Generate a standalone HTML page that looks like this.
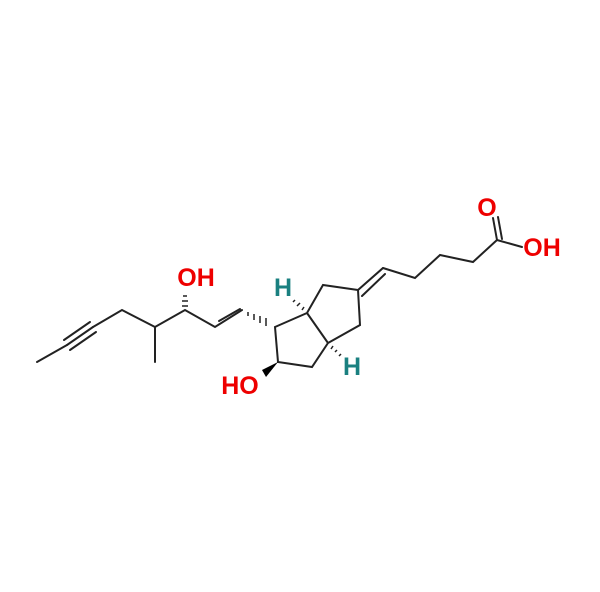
<!DOCTYPE html><html><head><style>body{margin:0;background:#fff}</style></head><body>
<svg width="600" height="587" xmlns="http://www.w3.org/2000/svg" font-family="Liberation Sans, sans-serif" font-weight="bold">
<g stroke="#222" stroke-width="2" fill="none" stroke-linecap="round">
<path d="M37,362 L67,345 M93,327 L122,310 L155,327 L185,310 L215,327 L242,310"/>
<path d="M67,345 L93,327 M64,340 L90,322 M70,350 L96,332"/>
<path d="M155,327 L155,362"/>
<path d="M219,321 L240,309"/>
<path d="M275,327 L307,313 L323,285 L358,290 L360,325 L328,343 L312,367 L278,362 Z M307,313 L328,343"/>
<path d="M358,290 L383,268 M362,296 L385,274"/>
<path d="M383,268 L415,278 L440,255 L473,262 L497,240"/>
<path d="M497,240 L493,218 M502,239 L498,217"/>
<path d="M497,240 L522,247"/>
</g>
<g stroke="#222" stroke-width="1.5">
<path d="M182,306 L188,306 M182,301 L188,301 M183,296 L187,296"/>
<path d="M248,312 L248,316 M254,314 L254,320 M260,316 L260,323 M266,318 L266,326"/>
<path d="M302,310 L304,307 M297,306 L300,303 M293,302 L295,300"/>
<path d="M333,346 L331,349 M337,350 L335,352 M341,354 L339,356"/>
</g>
<path d="M278,362 L262,370 L266,377 Z" fill="#000"/>
<g font-size="25" fill="#e00">
<text x="196" y="286" text-anchor="middle">OH</text>
<text x="240" y="394" text-anchor="middle">HO</text>
<text x="487" y="216" text-anchor="middle">O</text>
<text x="542" y="256" text-anchor="middle">OH</text>
</g>
<g font-size="25" fill="#1a8080">
<text x="283" y="296" text-anchor="middle">H</text>
<text x="352" y="375" text-anchor="middle">H</text>
</g>
</svg></body></html>
